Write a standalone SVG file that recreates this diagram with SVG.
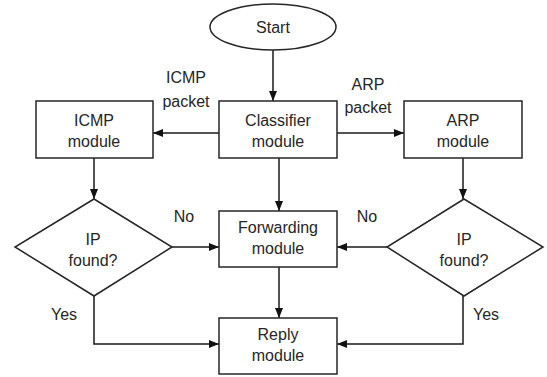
<svg xmlns="http://www.w3.org/2000/svg" width="547" height="377" viewBox="0 0 547 377">
<style>
.n{fill:#fff;stroke:#262626;stroke-width:1.5}
.t{font-family:"Liberation Sans",Arial,sans-serif;font-size:16px;fill:#262626;text-anchor:middle}
.c{fill:none;stroke:#1a1a1a;stroke-width:1.5}
</style>
<defs>
<marker id="ah" markerWidth="10" markerHeight="8" refX="10" refY="4" orient="auto" markerUnits="userSpaceOnUse">
<path d="M0,0 L10,4 L0,8 z" fill="#111"/>
</marker>
</defs>
<rect width="547" height="377" fill="#fff"/>
<g id="connectors">
<line class="c" x1="273" y1="50" x2="273" y2="101" marker-end="url(#ah)"/>
<line class="c" x1="219" y1="133" x2="153" y2="133" marker-end="url(#ah)"/>
<line class="c" x1="337" y1="133" x2="404" y2="133" marker-end="url(#ah)"/>
<line class="c" x1="279" y1="158" x2="279" y2="211" marker-end="url(#ah)"/>
<line class="c" x1="94" y1="158" x2="94" y2="199" marker-end="url(#ah)"/>
<line class="c" x1="463" y1="158" x2="463" y2="199" marker-end="url(#ah)"/>
<line class="c" x1="172" y1="247" x2="219" y2="247" marker-end="url(#ah)"/>
<line class="c" x1="387" y1="247" x2="337" y2="247" marker-end="url(#ah)"/>
<line class="c" x1="279" y1="267" x2="279" y2="318" marker-end="url(#ah)"/>
<polyline class="c" points="94,296 94,344 219,344" marker-end="url(#ah)"/>
<polyline class="c" points="463,296 463,344 337,344" marker-end="url(#ah)"/>
<text class="t" x="186" y="83">ICMP</text>
<text class="t" x="186" y="107">packet</text>
<text class="t" x="368" y="90">ARP</text>
<text class="t" x="368" y="113">packet</text>
<text class="t" x="184" y="222">No</text>
<text class="t" x="367" y="222">No</text>
<text class="t" x="64" y="320">Yes</text>
<text class="t" x="486" y="320">Yes</text>
</g>
<g id="start">
<ellipse class="n" cx="273" cy="27" rx="63" ry="23"/>
<text class="t" x="273" y="33">Start</text>
</g>
<g id="classifier">
<rect class="n" x="219" y="101" width="118" height="57"/>
<text class="t" x="278" y="126">Classifier</text>
<text class="t" x="278" y="147">module</text>
</g>
<g id="icmp">
<rect class="n" x="36" y="101" width="117" height="57"/>
<text class="t" x="94" y="126">ICMP</text>
<text class="t" x="94" y="147">module</text>
</g>
<g id="arp">
<rect class="n" x="404" y="101" width="118" height="57"/>
<text class="t" x="463" y="126">ARP</text>
<text class="t" x="463" y="147">module</text>
</g>
<g id="ipleft">
<polygon class="n" points="94,199 172,247 94,296 15,247"/>
<text class="t" x="93" y="245">IP</text>
<text class="t" x="93" y="266">found?</text>
</g>
<g id="ipright">
<polygon class="n" points="464,199 543,247 464,296 387,247"/>
<text class="t" x="464" y="245">IP</text>
<text class="t" x="464" y="266">found?</text>
</g>
<g id="forwarding">
<rect class="n" x="219" y="211" width="118" height="56"/>
<text class="t" x="278" y="233">Forwarding</text>
<text class="t" x="278" y="254">module</text>
</g>
<g id="reply">
<rect class="n" x="219" y="318" width="118" height="56"/>
<text class="t" x="278" y="340">Reply</text>
<text class="t" x="278" y="361">module</text>
</g>
</svg>
